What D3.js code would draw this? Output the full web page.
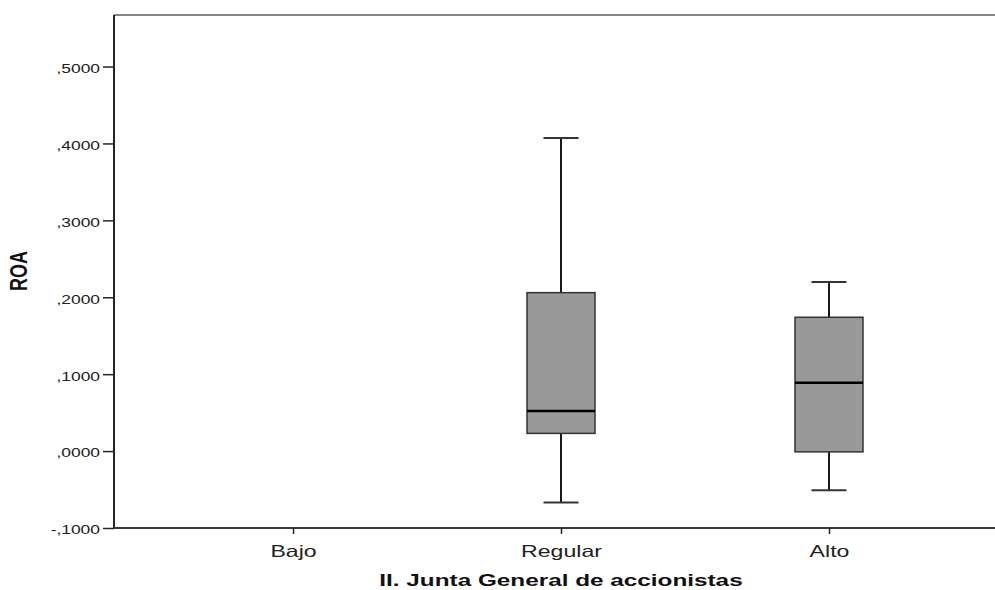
<!DOCTYPE html>
<html><head><meta charset="utf-8">
<script src="https://cdn.jsdelivr.net/npm/d3@7"></script>
<style>body{margin:0;background:#fff}svg{display:block}</style>
</head><body>
<svg id="c" width="995" height="590"></svg>
<script>
const categories = ["Bajo", "Regular", "Alto"];
const whiskerLow = [null, -0.067, -0.051];
const q1 = [null, 0.023, -0.001];
const median = [null, 0.052, 0.089];
const q3 = [null, 0.206, 0.174];
const whiskerHigh = [null, 0.407, 0.220];
const yTicks = [-0.1, 0, 0.1, 0.2, 0.3, 0.4, 0.5];
const yLabel = "ROA";
const xLabel = "II. Junta General de accionistas";

(function () {
const svg = d3.select("#c");
const FONT = "Liberation Sans, Arial, sans-serif";
const mLeft = 114, mTop = 15, mBottom = 528, mRight = 1008;
const x = d3.scalePoint().domain(categories).range([mLeft, mRight]).padding(0.668);
const y = d3.scaleLinear().domain([-0.1, 0.567]).range([mBottom, mTop]);
const fmt = v => { const s = d3.format(".4f")(Math.abs(v)).replace(/^0/, "").replace(".", ","); return (v < 0 ? "-" : "") + s; };

// top frame
svg.append("line").attr("x1", mLeft).attr("x2", 995).attr("y1", mTop).attr("y2", mTop)
  .attr("stroke", "#858585").attr("stroke-width", 2);

// y axis
const ya = svg.append("g").attr("transform", `translate(${mLeft},0)`)
  .call(d3.axisLeft(y).tickValues(yTicks).tickFormat(fmt).tickSize(11).tickPadding(3).tickSizeOuter(0));
ya.select(".domain").attr("stroke", "#262626").attr("stroke-width", 2).attr("d", `M0,${mTop}V${mBottom}`);
ya.selectAll(".tick line").attr("stroke", "#262626").attr("stroke-width", 1.5);
ya.selectAll(".tick text").attr("font-family", FONT).attr("font-size", 13).attr("fill", "#222")
  .attr("x", 0).attr("dy", "0.45em").attr("transform", "translate(-14,0) scale(1.34,1)");

// x axis
const xa = svg.append("g").attr("transform", `translate(0,${mBottom})`)
  .call(d3.axisBottom(x).tickSize(6).tickPadding(9).tickSizeOuter(0));
xa.select(".domain").attr("stroke", "#3a3a3a").attr("stroke-width", 2).attr("d", `M${mLeft},0H${mRight}`);
xa.selectAll(".tick line").attr("stroke", "#262626").attr("stroke-width", 1.5);
xa.selectAll(".tick text").attr("font-family", FONT).attr("font-size", 16.5).attr("fill", "#222")
  .attr("y", 0).attr("dy", 0).attr("transform", "translate(0,29) scale(1.4,1)");

// boxes
const boxW = 68, capW = 35;
categories.forEach((c, i) => {
  if (median[i] === null) return;
  const cx = x(c);
  const g = svg.append("g");
  g.append("line").attr("x1", cx).attr("x2", cx).attr("y1", y(whiskerHigh[i])).attr("y2", y(q3[i]))
    .attr("stroke", "#1a1a1a").attr("stroke-width", 2);
  g.append("line").attr("x1", cx).attr("x2", cx).attr("y1", y(q1[i])).attr("y2", y(whiskerLow[i]))
    .attr("stroke", "#1a1a1a").attr("stroke-width", 2);
  g.append("line").attr("x1", cx - capW / 2).attr("x2", cx + capW / 2).attr("y1", y(whiskerHigh[i])).attr("y2", y(whiskerHigh[i]))
    .attr("stroke", "#333").attr("stroke-width", 2);
  g.append("line").attr("x1", cx - capW / 2).attr("x2", cx + capW / 2).attr("y1", y(whiskerLow[i])).attr("y2", y(whiskerLow[i]))
    .attr("stroke", "#333").attr("stroke-width", 2);
  g.append("rect").attr("x", cx - boxW / 2).attr("width", boxW).attr("y", y(q3[i])).attr("height", y(q1[i]) - y(q3[i]))
    .attr("fill", "#999999").attr("stroke", "#333").attr("stroke-width", 1.5);
  g.append("line").attr("x1", cx - boxW / 2).attr("x2", cx + boxW / 2).attr("y1", y(median[i])).attr("y2", y(median[i]))
    .attr("stroke", "#000").attr("stroke-width", 2.5);
});

// labels
svg.append("text").attr("transform", `translate(27,271) scale(1.3,1) rotate(-90)`).attr("text-anchor", "middle")
  .attr("font-family", FONT).attr("font-weight", "bold").attr("font-size", 18)
  .attr("fill", "#111").text(yLabel);
svg.append("text").attr("transform", `translate(${x("Regular")},586) scale(1.43,1)`).attr("text-anchor", "middle")
  .attr("font-family", FONT).attr("font-weight", "bold").attr("font-size", 17)
  .attr("fill", "#111").text(xLabel);
})();
</script>
</body></html>
